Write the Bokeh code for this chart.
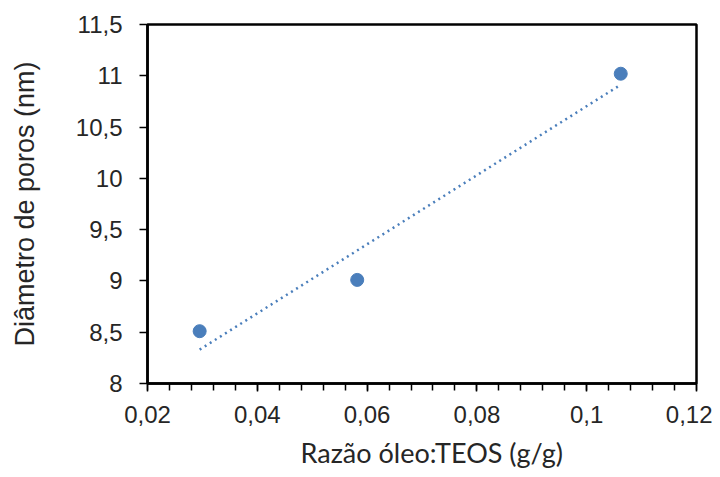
import numpy as np
from bokeh.plotting import figure
from bokeh.models import FixedTicker, CustomJSTickFormatter, Title
from bokeh.embed import file_html
from bokeh.resources import INLINE

# Data
razao = [0.0295, 0.0582, 0.1062]        # Razão óleo:TEOS (g/g)
diametro = [8.51, 9.01, 11.02]         # Diâmetro de poros (nm)

x_ticks = [0.02, 0.04, 0.06, 0.08, 0.1, 0.12]
y_ticks = [8, 8.5, 9, 9.5, 10, 10.5, 11, 11.5]
x_minor = [round(v, 4) for v in np.arange(0.02, 0.12001, 0.004)]

x_title = "Razão óleo:TEOS (g/g)"
y_title = "Diâmetro de poros (nm)"

# linear trendline fitted to the data
slope, intercept = np.polyfit(razao, diametro, 1)
trend_x = [min(razao), max(razao)]
trend_y = [slope * v + intercept for v in trend_x]

p = figure(width=712, height=477, output_backend="svg", toolbar_location=None,
           x_range=(0.02, 0.12), y_range=(8, 11.5),
           min_border_left=147, min_border_right=16, min_border_top=24, min_border_bottom=94)

p.grid.visible = False
p.outline_line_color = "black"
p.outline_line_width = 2.5
p.background_fill_color = "white"
p.border_fill_color = "white"

fmt = CustomJSTickFormatter(code="return Number(tick.toFixed(4)).toString().replace('.', ',');")

p.xaxis.ticker = FixedTicker(ticks=x_ticks, minor_ticks=x_minor)
p.yaxis.ticker = FixedTicker(ticks=y_ticks, minor_ticks=[])
p.xaxis.formatter = fmt
p.yaxis.formatter = fmt

for ax in (p.xaxis, p.yaxis):
    ax.axis_line_color = "black"
    ax.axis_line_width = 2.5
    ax.major_tick_line_color = "black"
    ax.major_tick_line_width = 1.5
    ax.minor_tick_line_color = "black"
    ax.minor_tick_line_width = 1.5
    ax.major_tick_out = 8
    ax.major_tick_in = 0
    ax.minor_tick_out = 7
    ax.minor_tick_in = 0
    ax.major_label_text_font = "Liberation Sans"
    ax.major_label_text_font_size = "24px"
    ax.major_label_text_color = "#262626"

p.yaxis.minor_tick_line_color = None
p.yaxis.major_label_standoff = 17
p.xaxis.major_label_standoff = 14

p.yaxis.axis_label = y_title
p.yaxis.axis_label_text_font = "Liberation Sans"
p.yaxis.axis_label_text_font_size = "27px"
p.yaxis.axis_label_text_font_style = "normal"
p.yaxis.axis_label_text_color = "#262626"
p.yaxis.axis_label_standoff = 33

# x-axis title, placed slightly right of centre as in the original
p.add_layout(Title(text=x_title, align="left", offset=153, standoff=17,
                   text_font="Lato", text_font_size="27px", text_line_height=1.0,
                   text_font_style="normal", text_color="#262626"), "below")

p.line(trend_x, trend_y, line_color="#4A7EBB", line_width=2.5, line_dash="2 4")
p.scatter(razao, diametro, size=13, fill_color="#4A7EBB", line_color="#4A7EBB")

open("out.html", "w").write(file_html(p, INLINE))
